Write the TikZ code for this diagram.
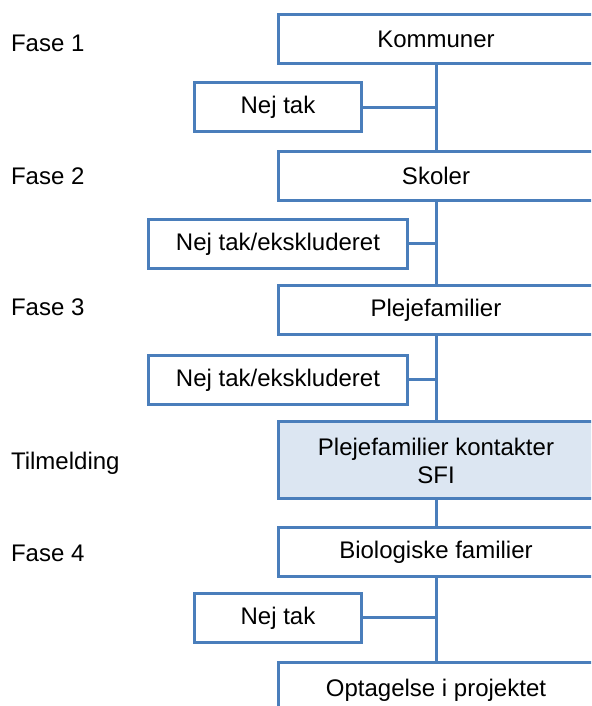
\documentclass[tikz,border=0pt]{standalone}
\usepackage{fontspec}
\setmainfont{Liberation Sans}
\usetikzlibrary{positioning}

\definecolor{boxline}{RGB}{74,126,187}
\definecolor{boxfill}{RGB}{220,230,242}

\begin{document}
\begin{tikzpicture}[
  x=0.5pt, y=0.5pt,
  stage/.style={draw=boxline, line width=1.5pt, fill=white, minimum width=158pt,
                minimum height=24.5pt, font=\fontsize{12}{14}\selectfont, align=center},
  drop/.style={draw=boxline, line width=1.5pt, fill=white, minimum height=24.5pt,
               font=\fontsize{12}{14}\selectfont},
  phase/.style={anchor=west, font=\fontsize{12}{14}\selectfont},
  link/.style={draw=boxline, line width=1.5pt},
]

%% frame (boxes run past the right and bottom edges)
\useasboundingbox (0,0) rectangle (591,706);
\clip (0,0) rectangle (591,706);

%% main column
\node[stage] (kom) at (436, 666.5) {Kommuner};
\node[stage] (skol) at (436, 530) {Skoler};
\node[stage] (pleje) at (436, 396) {Plejefamilier};
\node[stage, fill=boxfill, minimum height=38.5pt] (sfi) at (436, 245.5)
  {Plejefamilier kontakter\\SFI};
\node[stage] (bio) at (436, 154) {Biologiske familier};
\node[stage, minimum height=27pt] (optag) at (436, 16) {Optagelse i projektet};

%% drop-outs
\node[drop, minimum width=83.5pt] (nej1) at (278, 598.5) {Nej tak};
\node[drop, minimum width=129.5pt] (nej2) at (278, 462) {Nej tak/ekskluderet};
\node[drop, minimum width=129.5pt] (nej3) at (278, 326) {Nej tak/ekskluderet};
\node[drop, minimum width=83.5pt] (nej4) at (278, 88) {Nej tak};

%% phase labels
\node[phase] (f1) at (4, 663) {Fase 1};
\node[phase] (f2) at (4, 530) {Fase 2};
\node[phase] (f3) at (4, 399) {Fase 3};
\node[phase] (tilm) at (4, 243) {Tilmelding};
\node[phase] (f4) at (4, 153) {Fase 4};

%% connectors
\foreach \a/\b in {kom/skol, skol/pleje, pleje/sfi, sfi/bio, bio/optag} {
  \path[link] (\a.south) -- (\b.north);
}
\foreach \n in {nej1, nej2, nej3, nej4} {
  \path[link] (\n.east) -- (\n.east -| kom.south);
}

\end{tikzpicture}
\end{document}
